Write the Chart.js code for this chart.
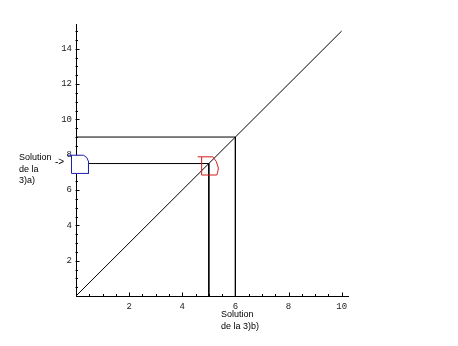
<!DOCTYPE html>
<html>
<head>
<meta charset="utf-8">
<script src="https://cdn.jsdelivr.net/npm/chart.js@4"></script>
<style>
  html, body { margin: 0; padding: 0; background: #ffffff; }
  canvas { display: block; }
</style>
</head>
<body>
<canvas id="c" width="458" height="346"></canvas>
<script>
// ---- data ----
const diagX = [0, 10];
const diagY = [0, 15];
const guide9X = [0, 6, 6];
const guide9Y = [9, 9, 0];
const guide75X = [0, 5, 5];
const guide75Y = [7.5, 7.5, 0];
const blueMarkX = [-0.33, -0.17, 0.28, 0.40, 0.47, 0.47, -0.17, -0.17];
const blueMarkY = [7.97, 7.97, 7.97, 7.85, 7.62, 6.94, 6.94, 7.97];
const redMarkX = [4.58, 4.73, 5.15, 5.28, 5.36, 5.33, 5.30, 4.73, 4.73];
const redMarkY = [7.88, 7.88, 7.88, 7.62, 7.25, 6.98, 6.85, 6.85, 7.88];
const xTickLabels = [2, 4, 6, 8, 10];
const yTickLabels = [2, 4, 6, 8, 10, 12, 14];
const minorStep = 0.5;
const xMax = 10.24;
const yMax = 15.4;
const leftNote = ['Solution', 'de la', '3)a)'];
const bottomNote = ['Solution', 'de la 3)b)'];

const pts = (xs, ys) => xs.map((x, i) => ({x: x, y: ys[i]}));

const whiteFill = {
  id: 'whiteFill',
  beforeDatasetDraw(chart, args) {
    const ds = chart.data.datasets[args.index];
    if (!ds.fillWhite) return;
    const ctx = chart.ctx;
    const els = args.meta.data;
    ctx.save();
    ctx.beginPath();
    els.forEach((p, i) => i ? ctx.lineTo(p.x, p.y) : ctx.moveTo(p.x, p.y));
    ctx.closePath();
    ctx.fillStyle = '#ffffff';
    ctx.fill();
    ctx.restore();
  }
};

const axisTicks = {
  id: 'axisTicks',
  beforeDatasetsDraw(chart) {
    const ctx = chart.ctx;
    const xs = chart.scales.x, ys = chart.scales.y;
    const x0 = xs.getPixelForValue(0), y0 = ys.getPixelForValue(0);
    ctx.save();
    ctx.strokeStyle = '#000';
    ctx.lineWidth = 1;
    ctx.beginPath();
    for (let v = minorStep; v <= xMax; v += minorStep) {
      const px = Math.round(xs.getPixelForValue(v)) + 0.5;
      const len = xTickLabels.includes(v) ? 4 : 2.5;
      ctx.moveTo(px, Math.round(y0) + 0.5);
      ctx.lineTo(px, Math.round(y0) + 0.5 - len);
    }
    for (let v = minorStep; v <= yMax; v += minorStep) {
      const py = Math.round(ys.getPixelForValue(v)) + 0.5;
      const len = yTickLabels.includes(v) ? 4 : 2.5;
      ctx.moveTo(Math.round(x0) - 0.5, py);
      ctx.lineTo(Math.round(x0) - 0.5 + len, py);
    }
    ctx.stroke();
    ctx.restore();
  }
};

const notes = {
  id: 'notes',
  afterDraw(chart) {
    const ctx = chart.ctx;
    ctx.save();
    ctx.fillStyle = '#000';
    ctx.font = '9px "Liberation Sans", Arial, sans-serif';
    ctx.textAlign = 'left';
    ctx.textBaseline = 'middle';
    const ys = chart.scales.y;
    const yArrow = ys.getPixelForValue(7.5);
    leftNote.forEach((t, i) => ctx.fillText(t, 19, 158 + i * 11.5));
    ctx.font = '10px "Liberation Sans", Arial, sans-serif';
    ctx.fillText('->', 55, yArrow - 1);
    ctx.font = '9px "Liberation Sans", Arial, sans-serif';
    bottomNote.forEach((t, i) => ctx.fillText(t, 221, 315 + i * 11.5));
    ctx.restore();
  }
};

const lineDs = (label, xs, ys, color, extra) => Object.assign({
  label: label,
  data: pts(xs, ys),
  showLine: true,
  borderColor: color,
  borderWidth: 1,
  pointRadius: 0,
  pointHoverRadius: 0,
  fill: false,
  tension: 0
}, extra || {});

new Chart(document.getElementById('c'), {
  type: 'scatter',
  data: {
    datasets: [
      lineDs('blue', blueMarkX, blueMarkY, '#1f1fb0', {clip: false, fillWhite: true, order: 0}),
      lineDs('red', redMarkX, redMarkY, '#d41a1a', {clip: false, order: 1}),
      lineDs('diag', diagX, diagY, '#000000', {order: 2}),
      lineDs('g9', guide9X, guide9Y, '#000000', {order: 3}),
      lineDs('g75', guide75X, guide75Y, '#000000', {order: 4})
    ]
  },
  options: {
    responsive: false,
    animation: false,
    events: [],
    layout: { padding: { left: 0, top: 24, right: 110, bottom: 0 } },
    plugins: { legend: { display: false }, tooltip: { enabled: false } },
    scales: {
      x: {
        type: 'linear',
        min: 0,
        max: xMax,
        grid: { display: false, drawTicks: false },
        border: { display: true, color: '#000', width: 1 },
        afterBuildTicks: s => { s.ticks = xTickLabels.map(v => ({value: v})); },
        afterFit: s => { s.height = 50; },
        ticks: {
          autoSkip: false,
          maxRotation: 0,
          padding: 5,
          color: '#222',
          font: { family: '"Liberation Mono", "Courier New", monospace', size: 9 }
        }
      },
      y: {
        type: 'linear',
        min: 0,
        max: yMax,
        grid: { display: false, drawTicks: false },
        border: { display: true, color: '#000', width: 1 },
        afterBuildTicks: s => { s.ticks = yTickLabels.map(v => ({value: v})); },
        afterFit: s => { s.width = 76; },
        ticks: {
          autoSkip: false,
          padding: 4,
          color: '#222',
          font: { family: '"Liberation Mono", "Courier New", monospace', size: 9 }
        }
      }
    }
  },
  plugins: [whiteFill, axisTicks, notes]
});
</script>
</body>
</html>
